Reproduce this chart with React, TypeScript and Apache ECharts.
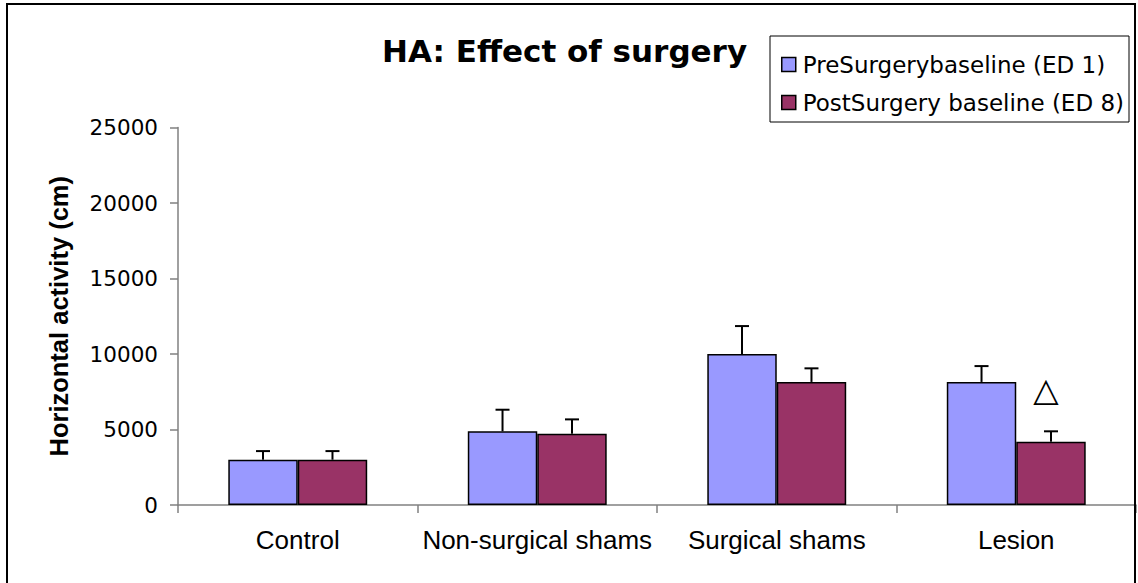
import React, { useEffect, useRef } from "react";
import * as echarts from "echarts";

const categories = ["Control", "Non-surgical shams", "Surgical shams", "Lesion"];
const seriesNames = ["PreSurgerybaseline (ED 1)", "PostSurgery baseline (ED 8)"];
const preValues = [3000, 4880, 10000, 8150];
const postValues = [3000, 4720, 8150, 4190];
const preErrors = [570, 1430, 1850, 1050];
const postErrors = [570, 950, 900, 690];
const postMarkers = ["", "", "", "△"];
const yTicks = { min: 0, max: 25000, interval: 5000 };

const BAR_RATIO = 0.29;

function errorSeries(name: string, values: number[], errors: number[], side: number, markers?: string[]) {
  return {
    type: "custom",
    name: name + " error",
    silent: true,
    z: 5,
    data: values.map((v, i) => [i, v, errors[i]]),
    renderItem: (params: any, api: any) => {
      const i = api.value(0);
      const v = api.value(1);
      const e = api.value(2);
      const bw = api.size([1, 0])[0] * BAR_RATIO;
      const base = api.coord([i, v]);
      const top = api.coord([i, v + e]);
      const x = base[0] + side * bw / 2;
      const cap = 7;
      const children: any[] = [
        { type: "line", shape: { x1: x, y1: base[1], x2: x, y2: top[1] }, style: { stroke: "#000", lineWidth: 2 } },
        { type: "line", shape: { x1: x - cap, y1: top[1], x2: x + cap, y2: top[1] }, style: { stroke: "#000", lineWidth: 2 } },
      ];
      const m = markers ? markers[params.dataIndex] : "";
      if (m) {
        children.push({
          type: "text",
          x: x - 5,
          y: top[1] - 42,
          style: {
            text: m,
            fontFamily: "DejaVu Sans",
            fontSize: 33,
            fill: "#000",
            align: "center",
            verticalAlign: "middle",
          },
        });
      }
      return { type: "group", children };
    },
  };
}

export default function App() {
  const ref = useRef<HTMLDivElement>(null);
  useEffect(() => {
    if (!ref.current) return;
    const chart = echarts.init(ref.current, undefined, { renderer: "svg" });
    chart.setOption({
      animation: false,
      backgroundColor: "#fff",
      title: {
        text: "HA: Effect of surgery",
        left: 382,
        top: 35,
        padding: 0,
        textStyle: { fontFamily: "DejaVu Sans", fontWeight: "bold", fontSize: 31, color: "#000" },
      },
      legend: {
        orient: "vertical",
        left: 770,
        top: 36,
        width: 362,
        padding: [17, 5, 8, 11],
        itemGap: 15,
        itemWidth: 14,
        itemHeight: 14,
        borderColor: "#000",
        borderWidth: 1,
        backgroundColor: "#fff",
        icon: "rect",
        itemStyle: { borderColor: "#000", borderWidth: 1.5 },
        textStyle: { fontFamily: "DejaVu Sans", fontSize: 23, color: "#000", padding: [0, 0, 0, 2] },
        data: seriesNames,
      },
      grid: { left: 178, right: 2, top: 127.5, bottom: 78, containLabel: false, outerBoundsMode: "none" },
      xAxis: {
        type: "category",
        data: categories,
        axisLine: { lineStyle: { color: "#808080", width: 1.5 } },
        axisTick: { show: true, length: 8, lineStyle: { color: "#808080", width: 1.5 } },
        axisLabel: { interval: 0, hideOverlap: false, fontFamily: "Liberation Sans", fontSize: 26, color: "#000", margin: 22 },
      },
      yAxis: {
        type: "value",
        min: yTicks.min,
        max: yTicks.max,
        interval: yTicks.interval,
        name: "Horizontal activity (cm)",
        nameLocation: "middle",
        nameGap: 106,
        nameTextStyle: { fontFamily: "Liberation Sans", fontWeight: "bold", fontSize: 25.5, color: "#000" },
        axisLine: { show: true, lineStyle: { color: "#808080", width: 1.5 } },
        axisTick: { show: true, length: 8, lineStyle: { color: "#808080", width: 1.5 } },
        splitLine: { show: false },
        axisLabel: {
          fontFamily: "DejaVu Sans",
          fontSize: 21.5,
          color: "#000",
          margin: 20,
          formatter: (v: number) => String(v),
        },
      },
      series: [
        {
          type: "bar",
          name: seriesNames[0],
          data: preValues,
          barWidth: "29%",
          barGap: "0%",
          itemStyle: { color: "#9999FF", borderColor: "#000", borderWidth: 1.5 },
        },
        {
          type: "bar",
          name: seriesNames[1],
          data: postValues,
          barWidth: "29%",
          barGap: "0%",
          itemStyle: { color: "#993366", borderColor: "#000", borderWidth: 1.5 },
        },
        errorSeries(seriesNames[0], preValues, preErrors, -1),
        errorSeries(seriesNames[1], postValues, postErrors, 1, postMarkers),
      ],
      graphic: [
        {
          type: "rect",
          silent: true,
          z: 100,
          shape: { x: 7, y: 4, width: 1128, height: 600 },
          style: { fill: "none", stroke: "#000", lineWidth: 2 },
        },
      ],
    });
    return () => chart.dispose();
  }, []);
  return <div ref={ref} style={{ position: "absolute", left: 0, top: 0, width: 1138, height: 583 }} />;
}
